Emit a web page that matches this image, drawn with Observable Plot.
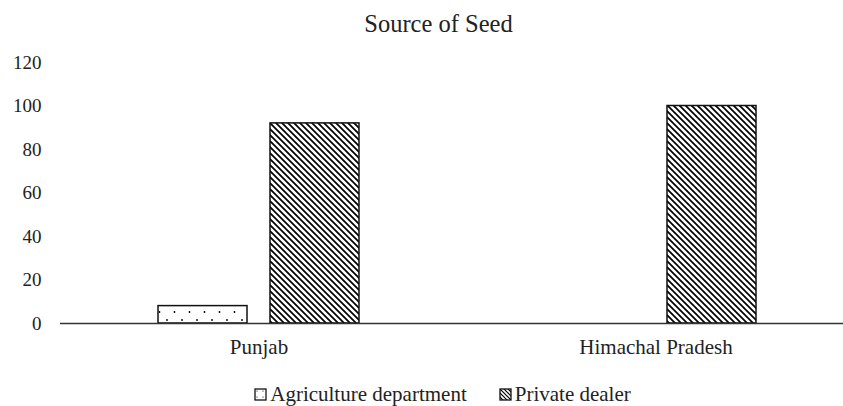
<!DOCTYPE html>
<html>
<head>
<meta charset="utf-8">
<script src="https://cdn.jsdelivr.net/npm/d3@7"></script>
<script src="https://cdn.jsdelivr.net/npm/@observablehq/plot@0.6"></script>
<style>
  html, body { margin: 0; background: #fff; overflow: hidden; }
  body { font-family: "Liberation Serif", "Times New Roman", Times, "DejaVu Serif", serif; color: #222; }
  #wrap { width: 843px; }
  #title { height: 44px; line-height: 48px; text-align: center; font-size: 24.5px; padding-left: 34px; }
  #legend { display: flex; justify-content: center; gap: 32px; font-size: 21px; margin-top: 16px; padding-left: 42px; line-height: 24px; }
  #legend .item { display: flex; align-items: center; }
  #legend svg { margin-right: 3px; }
  #chart svg { overflow: hidden; }
  #chart svg text { font-family: "Liberation Serif", "Times New Roman", Times, "DejaVu Serif", serif; }
</style>
</head>
<body>
<div id="wrap">
  <div id="title">Source of Seed</div>
  <div id="chart"></div>
  <div id="legend"></div>
</div>
<script>
const states = ["Punjab", "Himachal Pradesh"];
const sources = ["Agriculture department", "Private dealer"];
const agriculture = [8, 0];
const privateDealer = [92, 100];
const yTicks = [0, 20, 40, 60, 80, 100, 120];

const data = [];
states.forEach((s, i) => {
  data.push({state: s, source: sources[0], value: agriculture[i]});
  data.push({state: s, source: sources[1], value: privateDealer[i]});
});

const fills = ["url(#dots)", "url(#hatch)"];

const chart = Plot.plot({
  width: 843,
  height: 322,
  marginLeft: 61,
  marginRight: 0,
  marginTop: 18,
  marginBottom: 43,
  style: {fontFamily: "'Liberation Serif', 'Times New Roman', Times, 'DejaVu Serif', serif", fontSize: "19px", color: "#222", background: "#fff"},
  facet: {data, x: "state"},
  fx: {domain: states, range: [59, 854], padding: 0, label: null, axis: "bottom", tickSize: 0, tickPadding: 16},
  x: {domain: sources, axis: null, paddingInner: 0.2035, paddingOuter: 0.87},
  y: {domain: [0, 120], ticks: yTicks, tickSize: 0, tickPadding: 19, label: null, grid: false, line: false},
  color: {domain: sources, range: fills},
  marks: [
    Plot.barY(data, {x: "source", y: "value", fill: "source", stroke: "#111", strokeWidth: 1.5}),
    Plot.ruleY([0], {stroke: "#333", strokeWidth: 1.5})
  ]
});

const defs = `
<pattern id="hatch" patternUnits="userSpaceOnUse" width="6" height="6">
  <rect width="6" height="6" fill="#fff"/>
  <path d="M-1,-1 L7,7 M-1,5 L1,7 M5,-1 L7,1" stroke="#000" stroke-width="1.7"/>
</pattern>
<pattern id="dots" patternUnits="userSpaceOnUse" width="15" height="16">
  <rect width="15" height="16" fill="#fff"/>
  <circle cx="3" cy="4" r="0.9" fill="#000"/>
  <circle cx="10.5" cy="12" r="0.9" fill="#000"/>
</pattern>`;
d3.select(chart).insert("defs", ":first-child").html(defs);
d3.select(chart).selectAll("g[aria-label='fx-axis tick label'] text, g[aria-label='fx-axis'] text").style("font-size", "21px");
document.getElementById("chart").appendChild(chart);

// legend
const legend = d3.select("#legend");
sources.forEach((s, i) => {
  const item = legend.append("div").attr("class", "item");
  const sw = item.append("svg").attr("width", 13).attr("height", 13);
  sw.append("defs").html(i === 0
    ? `<pattern id="ldots" patternUnits="userSpaceOnUse" width="6" height="6"><rect width="6" height="6" fill="#fff"/><circle cx="3" cy="3" r="0.6" fill="#000"/></pattern>`
    : `<pattern id="lhatch" patternUnits="userSpaceOnUse" width="4" height="4"><rect width="4" height="4" fill="#fff"/><path d="M-1,-1 L5,5 M-1,3 L1,5 M3,-1 L5,1" stroke="#000" stroke-width="1.2"/></pattern>`);
  sw.append("rect").attr("x", 1).attr("y", 1).attr("width", 11).attr("height", 11)
    .attr("fill", i === 0 ? "url(#ldots)" : "url(#lhatch)").attr("stroke", "#111").attr("stroke-width", 1.3);
  item.append("span").text(s);
});
</script>
</body>
</html>
